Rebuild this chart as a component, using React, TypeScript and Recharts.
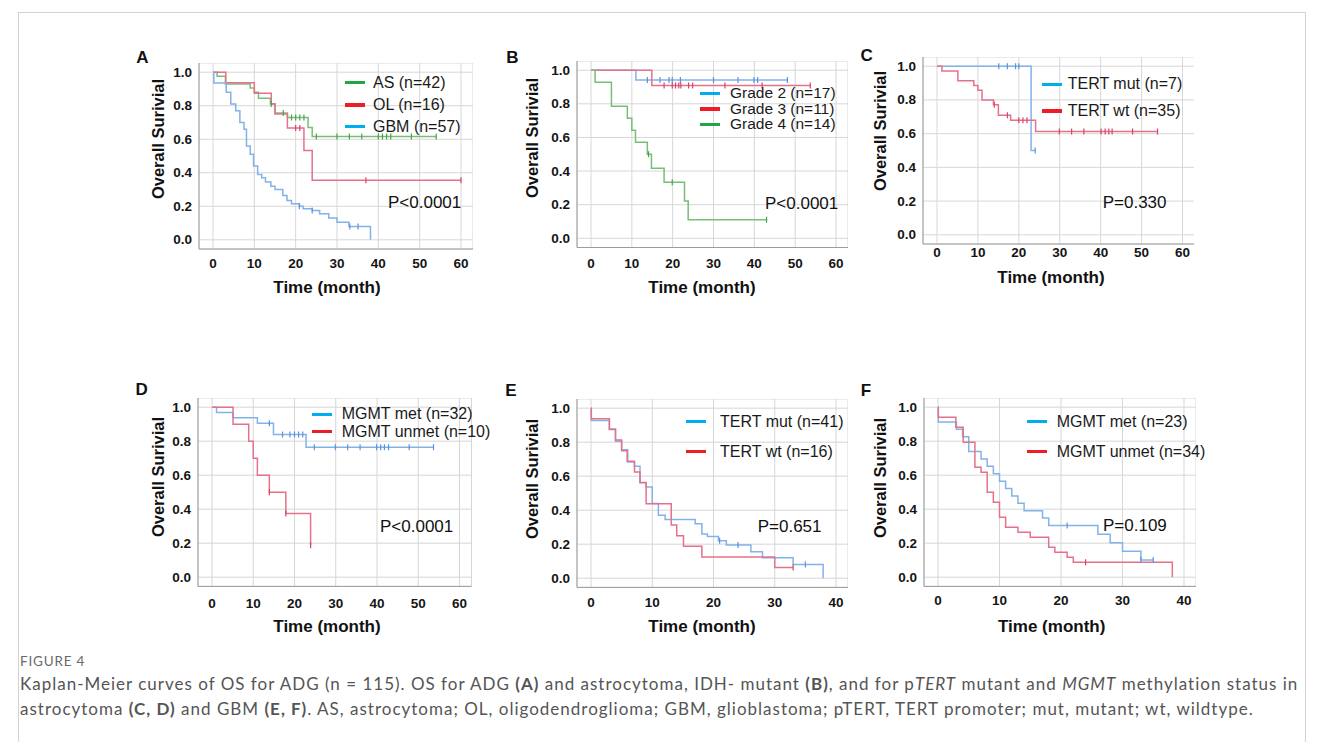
import React from 'react';
import { LineChart, Line, XAxis, YAxis, CartesianGrid } from 'recharts';

type Pt = { t: number; s: number; c?: number };

// ---------- Panel A : ADG ----------
const A_AS: Pt[] = [
  { t: 0, s: 1 }, { t: 1, s: 0.976 }, { t: 3, s: 0.929 }, { t: 9, s: 0.905 }, { t: 10, s: 0.881 },
  { t: 11, s: 0.845 }, { t: 13.9, s: 0.81 }, { t: 14.1, s: 0.81, c: 1 }, { t: 15, s: 0.757 },
  { t: 17, s: 0.757, c: 1 }, { t: 18, s: 0.73 }, { t: 19, s: 0.73, c: 1 }, { t: 20, s: 0.73, c: 1 },
  { t: 21, s: 0.73, c: 1 }, { t: 22, s: 0.73, c: 1 }, { t: 23, s: 0.67 }, { t: 24, s: 0.616 },
  { t: 25, s: 0.616, c: 1 }, { t: 30, s: 0.616, c: 1 }, { t: 33, s: 0.616, c: 1 }, { t: 36, s: 0.616, c: 1 },
  { t: 40, s: 0.616, c: 1 }, { t: 41, s: 0.616, c: 1 }, { t: 42, s: 0.616, c: 1 }, { t: 43, s: 0.616, c: 1 },
  { t: 48, s: 0.616, c: 1 }, { t: 54, s: 0.616, c: 1 },
];
const A_OL: Pt[] = [
  { t: 0, s: 1 }, { t: 3.1, s: 0.9375 }, { t: 10, s: 0.875 }, { t: 14.1, s: 0.8125 }, { t: 15, s: 0.75 },
  { t: 18, s: 0.667 }, { t: 20, s: 0.667, c: 1 }, { t: 21, s: 0.667, c: 1 }, { t: 22, s: 0.533 },
  { t: 24, s: 0.356 }, { t: 37, s: 0.356, c: 1 }, { t: 60, s: 0.356, c: 1 },
];
const A_GBM: Pt[] = [
  { t: 0, s: 1 }, { t: 0.2, s: 0.935 }, { t: 3.2, s: 0.88 }, { t: 4.3, s: 0.81 }, { t: 5.5, s: 0.77 },
  { t: 6.5, s: 0.7 }, { t: 7.5, s: 0.66 }, { t: 8.1, s: 0.56 }, { t: 9, s: 0.51 }, { t: 9.8, s: 0.44 },
  { t: 10.8, s: 0.39 }, { t: 11.8, s: 0.37 }, { t: 12.7, s: 0.345 }, { t: 14, s: 0.32 }, { t: 15, s: 0.3 },
  { t: 16.9, s: 0.265 }, { t: 17.9, s: 0.235 }, { t: 19, s: 0.215 }, { t: 20.9, s: 0.2, c: 1 },
  { t: 21.8, s: 0.185 }, { t: 24, s: 0.175, c: 1 }, { t: 25.8, s: 0.155 }, { t: 28, s: 0.13 },
  { t: 30, s: 0.105 }, { t: 32.9, s: 0.08 }, { t: 33.1, s: 0.08, c: 1 }, { t: 35.1, s: 0.08, c: 1 },
  { t: 38.1, s: 0 },
];

// ---------- Panel B : astrocytoma IDH-mutant by grade ----------
const B_G2: Pt[] = [
  { t: 0, s: 1 }, { t: 11, s: 0.941 }, { t: 13.8, s: 0.941, c: 1 }, { t: 16.9, s: 0.941, c: 1 },
  { t: 19.1, s: 0.941, c: 1 }, { t: 19.9, s: 0.941, c: 1 }, { t: 21.9, s: 0.941, c: 1 },
  { t: 30, s: 0.941, c: 1 }, { t: 36, s: 0.941, c: 1 }, { t: 39.9, s: 0.941, c: 1 },
  { t: 40.8, s: 0.941, c: 1 }, { t: 48.1, s: 0.941, c: 1 },
];
const B_G3: Pt[] = [
  { t: 0, s: 1 }, { t: 14.9, s: 0.909 }, { t: 17.9, s: 0.909, c: 1 }, { t: 19.9, s: 0.909, c: 1 },
  { t: 20.7, s: 0.909, c: 1 }, { t: 21.5, s: 0.909, c: 1 }, { t: 22, s: 0.909, c: 1 },
  { t: 23.9, s: 0.909, c: 1 }, { t: 24.9, s: 0.909, c: 1 }, { t: 32.8, s: 0.909, c: 1 },
  { t: 41.9, s: 0.909, c: 1 }, { t: 53.7, s: 0.909, c: 1 },
];
const B_G4: Pt[] = [
  { t: 0, s: 1 }, { t: 1, s: 0.929 }, { t: 5, s: 0.786 }, { t: 8.9, s: 0.714 }, { t: 10, s: 0.643 },
  { t: 10.9, s: 0.571 }, { t: 13.8, s: 0.5 }, { t: 14.1, s: 0.5, c: 1 }, { t: 14.8, s: 0.417 },
  { t: 17.9, s: 0.333 }, { t: 19.9, s: 0.333, c: 1 }, { t: 22.9, s: 0.222 }, { t: 23.8, s: 0.111 },
  { t: 43, s: 0.111, c: 1 },
];

// ---------- Panel C : astrocytoma, pTERT ----------
const C_MUT: Pt[] = [
  { t: 0, s: 1 }, { t: 15.1, s: 1, c: 1 }, { t: 17.2, s: 1, c: 1 }, { t: 19.2, s: 1, c: 1 },
  { t: 20, s: 1, c: 1 }, { t: 23, s: 0.5 }, { t: 24, s: 0.5, c: 1 },
];
const C_WT: Pt[] = [
  { t: 0, s: 1 }, { t: 1.2, s: 0.971 }, { t: 5.1, s: 0.914 }, { t: 9, s: 0.886 }, { t: 10, s: 0.857 },
  { t: 11, s: 0.8 }, { t: 13.8, s: 0.771 }, { t: 14, s: 0.771, c: 1 }, { t: 15, s: 0.709 },
  { t: 17.2, s: 0.709, c: 1 }, { t: 18, s: 0.679 }, { t: 20, s: 0.679, c: 1 }, { t: 21, s: 0.679, c: 1 },
  { t: 22, s: 0.679, c: 1 }, { t: 24.1, s: 0.612 }, { t: 29.9, s: 0.612, c: 1 }, { t: 32.9, s: 0.612, c: 1 },
  { t: 35.9, s: 0.612, c: 1 }, { t: 40.1, s: 0.612, c: 1 }, { t: 41.1, s: 0.612, c: 1 },
  { t: 42, s: 0.612, c: 1 }, { t: 42.8, s: 0.612, c: 1 }, { t: 47.8, s: 0.612, c: 1 },
  { t: 53.9, s: 0.612, c: 1 },
];

// ---------- Panel D : astrocytoma, MGMT ----------
const D_MET: Pt[] = [
  { t: 0, s: 1 }, { t: 1.1, s: 0.969 }, { t: 5.1, s: 0.938 }, { t: 11, s: 0.906 }, { t: 13.9, s: 0.906, c: 1 },
  { t: 14.9, s: 0.84 }, { t: 17.1, s: 0.84, c: 1 }, { t: 18.9, s: 0.84, c: 1 }, { t: 20, s: 0.84, c: 1 },
  { t: 21, s: 0.84, c: 1 }, { t: 22, s: 0.84, c: 1 }, { t: 22.8, s: 0.765 }, { t: 24.8, s: 0.765, c: 1 },
  { t: 29.9, s: 0.765, c: 1 }, { t: 32.9, s: 0.765, c: 1 }, { t: 35.9, s: 0.765, c: 1 },
  { t: 39.9, s: 0.765, c: 1 }, { t: 40.9, s: 0.765, c: 1 }, { t: 41.8, s: 0.765, c: 1 },
  { t: 42.8, s: 0.765, c: 1 }, { t: 47.8, s: 0.765, c: 1 }, { t: 53.7, s: 0.765, c: 1 },
];
const D_UNMET: Pt[] = [
  { t: 0, s: 1 }, { t: 5.1, s: 0.9 }, { t: 8.9, s: 0.8 }, { t: 10, s: 0.7 }, { t: 11, s: 0.6 },
  { t: 13.9, s: 0.5, c: 1 }, { t: 17.9, s: 0.375, c: 1 }, { t: 23.9, s: 0.1875, c: 1 },
];

// ---------- Panel E : GBM, pTERT ----------
const E_MUT: Pt[] = [
  { t: 0, s: 1 }, { t: 0.05, s: 0.927 }, { t: 3, s: 0.878 }, { t: 4, s: 0.805 }, { t: 5, s: 0.756 },
  { t: 6, s: 0.683 }, { t: 7.1, s: 0.659 }, { t: 8, s: 0.561 }, { t: 9, s: 0.537 }, { t: 10, s: 0.44 },
  { t: 11, s: 0.37 }, { t: 12.1, s: 0.345 }, { t: 17, s: 0.32 }, { t: 18.1, s: 0.26 }, { t: 19, s: 0.245 },
  { t: 20.8, s: 0.22 }, { t: 21, s: 0.22, c: 1 }, { t: 22.1, s: 0.195 }, { t: 24, s: 0.195, c: 1 },
  { t: 26.1, s: 0.155 }, { t: 28, s: 0.12 }, { t: 33, s: 0.08 }, { t: 35, s: 0.08, c: 1 }, { t: 37.9, s: 0 },
];
const E_WT: Pt[] = [
  { t: 0, s: 1 }, { t: 0.05, s: 0.9375 }, { t: 3, s: 0.875 }, { t: 4, s: 0.8125 }, { t: 5, s: 0.75 },
  { t: 5.9, s: 0.6875 }, { t: 7.1, s: 0.625 }, { t: 8, s: 0.5625 }, { t: 9, s: 0.4375 }, { t: 13.1, s: 0.3125 },
  { t: 14, s: 0.25 }, { t: 15.1, s: 0.1875 }, { t: 18.1, s: 0.125 }, { t: 30, s: 0.0625 },
  { t: 33, s: 0.0625, c: 1 },
];

// ---------- Panel F : GBM, MGMT ----------
const F_MET: Pt[] = [
  { t: 0, s: 1 }, { t: 0.05, s: 0.913 }, { t: 3, s: 0.87 }, { t: 4, s: 0.826 }, { t: 5, s: 0.739 },
  { t: 7, s: 0.696 }, { t: 8, s: 0.652 }, { t: 9, s: 0.609 }, { t: 10, s: 0.565 }, { t: 11, s: 0.522 },
  { t: 12, s: 0.478 }, { t: 13, s: 0.435 }, { t: 14, s: 0.391 }, { t: 17, s: 0.348 }, { t: 18, s: 0.304 },
  { t: 21, s: 0.304, c: 1 }, { t: 26, s: 0.253 }, { t: 28, s: 0.203 }, { t: 30, s: 0.152 },
  { t: 33, s: 0.101, c: 1 }, { t: 35, s: 0.101, c: 1 },
];
const F_UNMET: Pt[] = [
  { t: 0, s: 1 }, { t: 0.05, s: 0.941 }, { t: 2.9, s: 0.882 }, { t: 4.1, s: 0.794 }, { t: 6, s: 0.647 },
  { t: 7, s: 0.618 }, { t: 8, s: 0.5 }, { t: 9, s: 0.441 }, { t: 10, s: 0.353 }, { t: 11, s: 0.294 },
  { t: 13, s: 0.265 }, { t: 15, s: 0.235 }, { t: 18, s: 0.176 }, { t: 19, s: 0.147 }, { t: 21, s: 0.118 },
  { t: 22, s: 0.088 }, { t: 24, s: 0.088, c: 1 }, { t: 38.1, s: 0 },
];

// ---------- ticks / labels ----------
const X60 = [0, 10, 20, 30, 40, 50, 60];
const X40 = [0, 10, 20, 30, 40];
const Y_TICKS = [0, 0.2, 0.4, 0.6, 0.8, 1.0];
const Y_TITLE = 'Overall Surivial';
const X_TITLE = 'Time (month)';

const FONT = '"Liberation Sans", Arial, sans-serif';
const LINE_COL: Record<string, string> = { blue: '#82b2ea', red: '#e5718b', green: '#78bd78' };
const MARK_COL: Record<string, string> = { blue: '#5a93de', red: '#d8436a', green: '#4aa34a' };
const SWATCH_COL: Record<string, string> = { blue: '#00aeef', red: '#ee1c25', green: '#1fa64b' };

type Series = { name: string; data: Pt[]; col: string };
type Panel = {
  id: string; left: number; top: number; w: number; h: number; xMax: number; xTicks: number[];
  tickY: number; letter: [number, number]; yTitle: [number, number]; xTitle: [number, number];
  legend: { sx: number; tx: number; ys: number[]; fs: number }; p: { x: number; y: number; text: string };
  series: Series[];
};

const PANELS: Panel[] = [
  {
    id: 'A', left: 199.3, top: 62.5, w: 274, h: 186, xMax: 60, xTicks: X60, tickY: 263,
    letter: [142.5, 56.7], yTitle: [158, 139], xTitle: [327, 287],
    legend: { sx: 344.7, tx: 373, ys: [82.7, 105, 126.7], fs: 16 },
    p: { x: 388, y: 201.7, text: 'P<0.0001' },
    series: [
      { name: 'AS (n=42)', data: A_AS, col: 'green' },
      { name: 'OL (n=16)', data: A_OL, col: 'red' },
      { name: 'GBM (n=57)', data: A_GBM, col: 'blue' },
    ],
  },
  {
    id: 'B', left: 577.3, top: 61, w: 271, h: 186.5, xMax: 60, xTicks: X60, tickY: 263,
    letter: [512.5, 56.7], yTitle: [531.7, 138], xTitle: [702, 287],
    legend: { sx: 700, tx: 730, ys: [93.3, 109, 124.3], fs: 15.5 },
    p: { x: 765, y: 202.7, text: 'P<0.0001' },
    series: [
      { name: 'Grade 2 (n=17)', data: B_G2, col: 'blue' },
      { name: 'Grade 3 (n=11)', data: B_G3, col: 'red' },
      { name: 'Grade 4 (n=14)', data: B_G4, col: 'green' },
    ],
  },
  {
    id: 'C', left: 922.7, top: 57.4, w: 271.5, h: 187, xMax: 60, xTicks: X60, tickY: 253,
    letter: [866.7, 55], yTitle: [880, 131], xTitle: [1051, 277],
    legend: { sx: 1041.7, tx: 1067.7, ys: [84.3, 111], fs: 16 },
    p: { x: 1102.7, y: 202, text: 'P=0.330' },
    series: [
      { name: 'TERT mut (n=7)', data: C_MUT, col: 'blue' },
      { name: 'TERT wt (n=35)', data: C_WT, col: 'red' },
    ],
  },
  {
    id: 'D', left: 198.3, top: 397.5, w: 273.5, h: 188.4, xMax: 60, xTicks: X60, tickY: 603,
    letter: [141.7, 389], yTitle: [158.3, 477], xTitle: [327, 626],
    legend: { sx: 311.7, tx: 341.7, ys: [414.3, 431.7], fs: 16 },
    p: { x: 380, y: 525.7, text: 'P<0.0001' },
    series: [
      { name: 'MGMT met (n=32)', data: D_MET, col: 'blue' },
      { name: 'MGMT unmet (n=10)', data: D_UNMET, col: 'red' },
    ],
  },
  {
    id: 'E', left: 577.3, top: 399.1, w: 271, h: 188.4, xMax: 40, xTicks: X40, tickY: 603,
    letter: [511, 390], yTitle: [531.7, 479], xTitle: [702, 626],
    legend: { sx: 686, tx: 720, ys: [421.7, 451.7], fs: 16 },
    p: { x: 757.7, y: 525.7, text: 'P=0.651' },
    series: [
      { name: 'TERT mut (n=41)', data: E_MUT, col: 'blue' },
      { name: 'TERT wt (n=16)', data: E_WT, col: 'red' },
    ],
  },
  {
    id: 'F', left: 924, top: 398.1, w: 272, h: 188.4, xMax: 40, xTicks: X40, tickY: 601,
    letter: [866, 390], yTitle: [880, 477.5], xTitle: [1051.7, 626],
    legend: { sx: 1026.7, tx: 1056.7, ys: [421.7, 451.7], fs: 16 },
    p: { x: 1103, y: 525.3, text: 'P=0.109' },
    series: [
      { name: 'MGMT met (n=23)', data: F_MET, col: 'blue' },
      { name: 'MGMT unmet (n=34)', data: F_UNMET, col: 'red' },
    ],
  },
];

const YW = 60;
const XH = 40;

function censorDot(col: string) {
  return (props: any) => {
    const { cx, cy, payload, index } = props;
    if (!payload || !payload.c || cx == null || cy == null) return <g key={`n${index}`} />;
    return (
      <line key={`c${index}`} x1={cx} x2={cx} y1={cy - 3} y2={cy + 3} stroke={MARK_COL[col]} strokeWidth={1.2} />
    );
  };
}

function KMPanel({ p }: { p: Panel }) {
  const kx = (p.w - 26) / p.xMax;
  const xDomain = [-14 / kx, (p.w - 14) / kx];
  const ky = p.h - 18.4;
  const yDomain = [-9.2 / ky, 1 + 9.2 / ky];
  const tickOffset = p.tickY - p.top;
  const XTick = (props: any) => (
    <text x={props.x} y={tickOffset} textAnchor="middle" dominantBaseline="central" fontSize={13.5}
      fontWeight={700} fill="#151515" fontFamily={FONT}>{props.payload.value}</text>
  );
  const YTick = (props: any) => (
    <text x={props.x - 7} y={props.y} textAnchor="end" dominantBaseline="central" fontSize={13.5}
      fontWeight={700} fill="#151515" fontFamily={FONT}>{Number(props.payload.value).toFixed(1)}</text>
  );
  const abs = (x: number, y: number, extra: React.CSSProperties = {}): React.CSSProperties => ({
    position: 'absolute', left: x, top: y, whiteSpace: 'nowrap', fontFamily: FONT, lineHeight: 1, ...extra,
  });
  return (
    <>
      <div style={{ position: 'absolute', left: p.left - YW, top: p.top }}>
        <LineChart width={p.w + YW} height={p.h + XH} margin={{ top: 0, right: 0, bottom: 0, left: 0 }}>
          <CartesianGrid stroke="#d7d7d7" strokeWidth={1} />
          <XAxis type="number" dataKey="t" domain={xDomain} ticks={p.xTicks} allowDataOverflow height={XH}
            tickLine={false} tickSize={0} tickMargin={0} interval={0} axisLine={{ stroke: '#9c9c9c' }} tick={XTick} />
          <YAxis type="number" domain={yDomain} ticks={Y_TICKS} allowDataOverflow width={YW}
            tickLine={false} tickSize={0} tickMargin={0} interval={0} axisLine={{ stroke: '#9c9c9c' }} tick={YTick} />
          {p.series.map((s) => (
            <Line key={s.name} data={s.data} dataKey="s" type="stepAfter" stroke={LINE_COL[s.col]}
              strokeWidth={1.5} dot={censorDot(s.col)} activeDot={false} isAnimationActive={false} />
          ))}
        </LineChart>
      </div>
      <div style={abs(p.letter[0], p.letter[1], { transform: 'translate(-50%,-50%)', fontSize: 17, fontWeight: 700, color: '#111' })}>{p.id}</div>
      <div style={abs(p.yTitle[0], p.yTitle[1], { transform: 'translate(-50%,-50%) rotate(-90deg)', fontSize: 16.5, fontWeight: 700, color: '#111' })}>{Y_TITLE}</div>
      <div style={abs(p.xTitle[0], p.xTitle[1], { transform: 'translate(-50%,-50%)', fontSize: 17, fontWeight: 700, color: '#111' })}>{X_TITLE}</div>
      {p.series.map((s, i) => (
        <React.Fragment key={s.name}>
          <div style={{ position: 'absolute', left: p.legend.sx, top: p.legend.ys[i] - 1.75, width: 20, height: 3.5, background: SWATCH_COL[s.col] }} />
          <div style={abs(p.legend.tx, p.legend.ys[i], { transform: 'translateY(-50%)', fontSize: p.legend.fs, color: '#1a1a1a' })}>{s.name}</div>
        </React.Fragment>
      ))}
      <div style={abs(p.p.x, p.p.y, { transform: 'translateY(-50%)', fontSize: 17, color: '#111' })}>{p.p.text}</div>
    </>
  );
}

const CAP_FONT = 'Lato, "Open Sans", sans-serif';

export default function App() {
  return (
    <div style={{ position: 'absolute', left: 0, top: 0, width: 1322, height: 742, background: '#fff', overflow: 'hidden' }}>
      <div style={{ position: 'absolute', left: 18, top: 12, width: 1286, height: 760, borderTop: '1px solid #d2d2d2', borderLeft: '1px solid #d2d2d2', borderRight: '1px solid #d2d2d2' }} />
      {PANELS.map((p) => <KMPanel key={p.id} p={p} />)}
      <div style={{ position: 'absolute', left: 20, top: 653, fontFamily: CAP_FONT, fontSize: 13.5, color: '#6a6a6a', letterSpacing: 0.8 }}>FIGURE 4</div>
      <div style={{ position: 'absolute', left: 20, top: 671, fontFamily: CAP_FONT, fontSize: 17, letterSpacing: 1.0, color: '#555', whiteSpace: 'nowrap', lineHeight: '25px' }}>
        <div>Kaplan-Meier curves of OS for ADG (n = 115). OS for ADG <b>(A)</b> and astrocytoma, IDH- mutant <b>(B)</b>, and for p<i>TERT</i> mutant and <i>MGMT</i> methylation status in</div>
        <div>astrocytoma <b>(C, D)</b> and GBM <b>(E, F)</b>. AS, astrocytoma; OL, oligodendroglioma; GBM, glioblastoma; pTERT, TERT promoter; mut, mutant; wt, wildtype.</div>
      </div>
    </div>
  );
}
